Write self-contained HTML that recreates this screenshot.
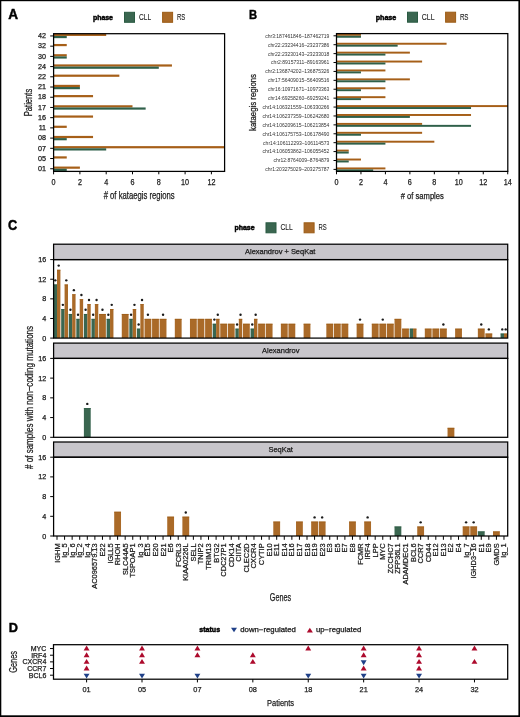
<!DOCTYPE html>
<html><head><meta charset="utf-8"><style>
html,body{margin:0;padding:0;background:#fff;width:520px;height:717px;overflow:hidden;}
svg{display:block;font-family:"Liberation Sans",sans-serif;}
text{stroke:#1a1a1a;stroke-width:0.25px;}
text[font-weight=bold]{stroke:#000;stroke-width:0.45px;}
svg{will-change:transform;}
</style></head><body>
<svg width="520" height="717" viewBox="0 0 520 717" font-family="Liberation Sans, sans-serif"><rect x="0.00" y="0.00" width="520.00" height="717.00" fill="#fff"/>
<text x="8.30" y="19.10" font-size="14.099" font-weight="bold" fill="#000" textLength="9.80" lengthAdjust="spacingAndGlyphs">A</text>
<text x="249.00" y="19.00" font-size="13.372" font-weight="bold" fill="#000" textLength="8.10" lengthAdjust="spacingAndGlyphs">B</text>
<text x="8.10" y="230.00" font-size="14.244" font-weight="bold" fill="#000" textLength="9.20" lengthAdjust="spacingAndGlyphs">C</text>
<text x="8.80" y="632.30" font-size="13.372" font-weight="bold" fill="#000" textLength="9.20" lengthAdjust="spacingAndGlyphs">D</text>
<text x="92.90" y="19.50" font-size="6.759" font-weight="bold" fill="#000" textLength="20.10" lengthAdjust="spacingAndGlyphs">phase</text>
<rect x="124.50" y="12.30" width="10.00" height="10.00" fill="#3a6650" stroke="#2a5a42" stroke-width="1"/>
<rect x="162.60" y="12.30" width="10.00" height="10.00" fill="#aa6a28" stroke="#9c5c16" stroke-width="1"/>
<text x="139.10" y="19.70" font-size="8.739" fill="#222" textLength="12.10" lengthAdjust="spacingAndGlyphs" style="stroke-width:0.1px">CLL</text>
<text x="176.90" y="19.70" font-size="8.739" fill="#222" textLength="8.40" lengthAdjust="spacingAndGlyphs" style="stroke-width:0.1px">RS</text>
<text x="375.70" y="19.50" font-size="6.897" font-weight="bold" fill="#000" textLength="20.60" lengthAdjust="spacingAndGlyphs">phase</text>
<rect x="407.50" y="12.20" width="10.00" height="10.00" fill="#3a6650" stroke="#2a5a42" stroke-width="1"/>
<rect x="445.60" y="12.20" width="10.00" height="10.00" fill="#aa6a28" stroke="#9c5c16" stroke-width="1"/>
<text x="421.80" y="19.60" font-size="8.739" fill="#222" textLength="12.80" lengthAdjust="spacingAndGlyphs" style="stroke-width:0.1px">CLL</text>
<text x="459.90" y="19.60" font-size="8.739" fill="#222" textLength="8.60" lengthAdjust="spacingAndGlyphs" style="stroke-width:0.1px">RS</text>
<text x="234.40" y="230.10" font-size="6.759" font-weight="bold" fill="#000" textLength="20.20" lengthAdjust="spacingAndGlyphs">phase</text>
<rect x="266.00" y="222.80" width="10.00" height="10.00" fill="#3a6650" stroke="#2a5a42" stroke-width="1"/>
<rect x="304.10" y="222.80" width="10.00" height="10.00" fill="#aa6a28" stroke="#9c5c16" stroke-width="1"/>
<text x="280.40" y="230.20" font-size="8.453" fill="#222" textLength="12.40" lengthAdjust="spacingAndGlyphs" style="stroke-width:0.1px">CLL</text>
<text x="318.60" y="230.20" font-size="8.453" fill="#222" textLength="8.20" lengthAdjust="spacingAndGlyphs" style="stroke-width:0.1px">RS</text>
<rect x="53.60" y="33.75" width="52.60" height="2.20" fill="#a65f18"/>
<rect x="53.60" y="35.95" width="13.15" height="2.20" fill="#2f604a"/>
<line x1="50.20" y1="35.95" x2="53.60" y2="35.95" stroke="#000" stroke-width="1.0"/>
<text x="38.09" y="38.15" font-size="7.200" fill="#1a1a1a" textLength="8.01" lengthAdjust="spacingAndGlyphs">42</text>
<rect x="53.60" y="43.97" width="13.15" height="2.20" fill="#a65f18"/>
<line x1="50.20" y1="46.17" x2="53.60" y2="46.17" stroke="#000" stroke-width="1.0"/>
<text x="38.09" y="48.37" font-size="7.200" fill="#1a1a1a" textLength="8.01" lengthAdjust="spacingAndGlyphs">32</text>
<rect x="53.60" y="54.18" width="13.15" height="2.20" fill="#a65f18"/>
<rect x="53.60" y="56.38" width="13.15" height="2.20" fill="#2f604a"/>
<line x1="50.20" y1="56.38" x2="53.60" y2="56.38" stroke="#000" stroke-width="1.0"/>
<text x="38.09" y="58.58" font-size="7.200" fill="#1a1a1a" textLength="8.01" lengthAdjust="spacingAndGlyphs">30</text>
<rect x="53.60" y="64.39" width="118.35" height="2.20" fill="#a65f18"/>
<rect x="53.60" y="66.59" width="105.20" height="2.20" fill="#2f604a"/>
<line x1="50.20" y1="66.59" x2="53.60" y2="66.59" stroke="#000" stroke-width="1.0"/>
<text x="38.09" y="68.80" font-size="7.200" fill="#1a1a1a" textLength="8.01" lengthAdjust="spacingAndGlyphs">24</text>
<rect x="53.60" y="74.61" width="65.75" height="2.20" fill="#a65f18"/>
<line x1="50.20" y1="76.81" x2="53.60" y2="76.81" stroke="#000" stroke-width="1.0"/>
<text x="38.09" y="79.01" font-size="7.200" fill="#1a1a1a" textLength="8.01" lengthAdjust="spacingAndGlyphs">22</text>
<rect x="53.60" y="84.83" width="26.30" height="2.20" fill="#a65f18"/>
<rect x="53.60" y="87.03" width="26.30" height="2.20" fill="#2f604a"/>
<line x1="50.20" y1="87.03" x2="53.60" y2="87.03" stroke="#000" stroke-width="1.0"/>
<text x="38.09" y="89.23" font-size="7.200" fill="#1a1a1a" textLength="8.01" lengthAdjust="spacingAndGlyphs">21</text>
<rect x="53.60" y="95.04" width="39.45" height="2.20" fill="#a65f18"/>
<line x1="50.20" y1="97.24" x2="53.60" y2="97.24" stroke="#000" stroke-width="1.0"/>
<text x="38.09" y="99.44" font-size="7.200" fill="#1a1a1a" textLength="8.01" lengthAdjust="spacingAndGlyphs">18</text>
<rect x="53.60" y="105.25" width="78.90" height="2.20" fill="#a65f18"/>
<rect x="53.60" y="107.45" width="92.05" height="2.20" fill="#2f604a"/>
<line x1="50.20" y1="107.45" x2="53.60" y2="107.45" stroke="#000" stroke-width="1.0"/>
<text x="38.09" y="109.66" font-size="7.200" fill="#1a1a1a" textLength="8.01" lengthAdjust="spacingAndGlyphs">17</text>
<rect x="53.60" y="115.47" width="39.45" height="2.20" fill="#a65f18"/>
<line x1="50.20" y1="117.67" x2="53.60" y2="117.67" stroke="#000" stroke-width="1.0"/>
<text x="38.09" y="119.87" font-size="7.200" fill="#1a1a1a" textLength="8.01" lengthAdjust="spacingAndGlyphs">16</text>
<rect x="53.60" y="125.69" width="13.15" height="2.20" fill="#a65f18"/>
<line x1="50.20" y1="127.89" x2="53.60" y2="127.89" stroke="#000" stroke-width="1.0"/>
<text x="38.63" y="130.09" font-size="7.200" fill="#1a1a1a" textLength="7.47" lengthAdjust="spacingAndGlyphs">11</text>
<rect x="53.60" y="135.90" width="39.45" height="2.20" fill="#a65f18"/>
<rect x="53.60" y="138.10" width="13.15" height="2.20" fill="#2f604a"/>
<line x1="50.20" y1="138.10" x2="53.60" y2="138.10" stroke="#000" stroke-width="1.0"/>
<text x="38.09" y="140.30" font-size="7.200" fill="#1a1a1a" textLength="8.01" lengthAdjust="spacingAndGlyphs">08</text>
<rect x="53.60" y="146.12" width="170.95" height="2.20" fill="#a65f18"/>
<rect x="53.60" y="148.31" width="52.60" height="2.20" fill="#2f604a"/>
<line x1="50.20" y1="148.31" x2="53.60" y2="148.31" stroke="#000" stroke-width="1.0"/>
<text x="38.09" y="150.51" font-size="7.200" fill="#1a1a1a" textLength="8.01" lengthAdjust="spacingAndGlyphs">07</text>
<rect x="53.60" y="156.33" width="13.15" height="2.20" fill="#a65f18"/>
<line x1="50.20" y1="158.53" x2="53.60" y2="158.53" stroke="#000" stroke-width="1.0"/>
<text x="38.09" y="160.73" font-size="7.200" fill="#1a1a1a" textLength="8.01" lengthAdjust="spacingAndGlyphs">05</text>
<rect x="53.60" y="166.55" width="26.30" height="2.20" fill="#a65f18"/>
<rect x="53.60" y="168.75" width="13.15" height="2.20" fill="#2f604a"/>
<line x1="50.20" y1="168.75" x2="53.60" y2="168.75" stroke="#000" stroke-width="1.0"/>
<text x="38.09" y="170.94" font-size="7.200" fill="#1a1a1a" textLength="8.01" lengthAdjust="spacingAndGlyphs">01</text>
<line x1="53.60" y1="171.40" x2="53.60" y2="174.30" stroke="#000" stroke-width="1.0"/>
<text x="51.59" y="184.80" font-size="8.400" fill="#1a1a1a" textLength="4.02" lengthAdjust="spacingAndGlyphs">0</text>
<line x1="79.90" y1="171.40" x2="79.90" y2="174.30" stroke="#000" stroke-width="1.0"/>
<text x="77.89" y="184.80" font-size="8.400" fill="#1a1a1a" textLength="4.02" lengthAdjust="spacingAndGlyphs">2</text>
<line x1="106.20" y1="171.40" x2="106.20" y2="174.30" stroke="#000" stroke-width="1.0"/>
<text x="104.19" y="184.80" font-size="8.400" fill="#1a1a1a" textLength="4.02" lengthAdjust="spacingAndGlyphs">4</text>
<line x1="132.50" y1="171.40" x2="132.50" y2="174.30" stroke="#000" stroke-width="1.0"/>
<text x="130.49" y="184.80" font-size="8.400" fill="#1a1a1a" textLength="4.02" lengthAdjust="spacingAndGlyphs">6</text>
<line x1="158.80" y1="171.40" x2="158.80" y2="174.30" stroke="#000" stroke-width="1.0"/>
<text x="156.79" y="184.80" font-size="8.400" fill="#1a1a1a" textLength="4.02" lengthAdjust="spacingAndGlyphs">8</text>
<line x1="185.10" y1="171.40" x2="185.10" y2="174.30" stroke="#000" stroke-width="1.0"/>
<text x="181.08" y="184.80" font-size="8.400" fill="#1a1a1a" textLength="8.04" lengthAdjust="spacingAndGlyphs">10</text>
<line x1="211.40" y1="171.40" x2="211.40" y2="174.30" stroke="#000" stroke-width="1.0"/>
<text x="207.38" y="184.80" font-size="8.400" fill="#1a1a1a" textLength="8.04" lengthAdjust="spacingAndGlyphs">12</text>
<rect x="53.60" y="33.70" width="171.00" height="137.70" fill="none" stroke="#000" stroke-width="1.25"/>
<text x="103.70" y="198.50" font-size="10.083" fill="#1a1a1a" textLength="70.90" lengthAdjust="spacingAndGlyphs"># of kataegis regions</text>
<text transform="translate(32.00,116.20) rotate(-90)" x="0" y="0" font-size="10.465" fill="#1a1a1a" textLength="27.40" lengthAdjust="spacingAndGlyphs">Patients</text>
<rect x="336.50" y="33.85" width="24.46" height="1.95" fill="#a65f18"/>
<rect x="336.50" y="35.80" width="24.46" height="1.95" fill="#2f604a"/>
<line x1="333.50" y1="35.80" x2="336.50" y2="35.80" stroke="#000" stroke-width="1.0"/>
<text x="265.17" y="37.70" font-size="5.400" fill="#333" textLength="64.23" lengthAdjust="spacingAndGlyphs" style="stroke-width:0px">chr3:187461846–187462719</text>
<rect x="336.50" y="42.76" width="110.07" height="1.95" fill="#a65f18"/>
<rect x="336.50" y="44.71" width="61.15" height="1.95" fill="#2f604a"/>
<line x1="333.50" y1="44.71" x2="336.50" y2="44.71" stroke="#000" stroke-width="1.0"/>
<text x="267.96" y="46.61" font-size="5.400" fill="#333" textLength="61.44" lengthAdjust="spacingAndGlyphs" style="stroke-width:0px">chr22:23234416–23237386</text>
<rect x="336.50" y="51.66" width="73.38" height="1.95" fill="#a65f18"/>
<rect x="336.50" y="53.61" width="48.92" height="1.95" fill="#2f604a"/>
<line x1="333.50" y1="53.61" x2="336.50" y2="53.61" stroke="#000" stroke-width="1.0"/>
<text x="267.96" y="55.51" font-size="5.400" fill="#333" textLength="61.44" lengthAdjust="spacingAndGlyphs" style="stroke-width:0px">chr22:23230143–23233018</text>
<rect x="336.50" y="60.57" width="85.61" height="1.95" fill="#a65f18"/>
<rect x="336.50" y="62.52" width="48.92" height="1.95" fill="#2f604a"/>
<line x1="333.50" y1="62.52" x2="336.50" y2="62.52" stroke="#000" stroke-width="1.0"/>
<text x="271.12" y="64.42" font-size="5.400" fill="#333" textLength="58.27" lengthAdjust="spacingAndGlyphs" style="stroke-width:0px">chr2:89157311–89163961</text>
<rect x="336.50" y="69.48" width="48.92" height="1.95" fill="#a65f18"/>
<rect x="336.50" y="71.43" width="24.46" height="1.95" fill="#2f604a"/>
<line x1="333.50" y1="71.43" x2="336.50" y2="71.43" stroke="#000" stroke-width="1.0"/>
<text x="265.17" y="73.33" font-size="5.400" fill="#333" textLength="64.23" lengthAdjust="spacingAndGlyphs" style="stroke-width:0px">chr2:136874202–136875326</text>
<rect x="336.50" y="78.38" width="73.38" height="1.95" fill="#a65f18"/>
<rect x="336.50" y="80.33" width="48.92" height="1.95" fill="#2f604a"/>
<line x1="333.50" y1="80.33" x2="336.50" y2="80.33" stroke="#000" stroke-width="1.0"/>
<text x="267.96" y="82.23" font-size="5.400" fill="#333" textLength="61.44" lengthAdjust="spacingAndGlyphs" style="stroke-width:0px">chr17:56409015–56409516</text>
<rect x="336.50" y="87.29" width="48.92" height="1.95" fill="#a65f18"/>
<rect x="336.50" y="89.24" width="24.46" height="1.95" fill="#2f604a"/>
<line x1="333.50" y1="89.24" x2="336.50" y2="89.24" stroke="#000" stroke-width="1.0"/>
<text x="267.96" y="91.14" font-size="5.400" fill="#333" textLength="61.44" lengthAdjust="spacingAndGlyphs" style="stroke-width:0px">chr16:10971671–10973363</text>
<rect x="336.50" y="96.20" width="48.92" height="1.95" fill="#a65f18"/>
<rect x="336.50" y="98.15" width="24.46" height="1.95" fill="#2f604a"/>
<line x1="333.50" y1="98.15" x2="336.50" y2="98.15" stroke="#000" stroke-width="1.0"/>
<text x="267.96" y="100.05" font-size="5.400" fill="#333" textLength="61.44" lengthAdjust="spacingAndGlyphs" style="stroke-width:0px">chr14:69258260–69259241</text>
<rect x="336.50" y="105.11" width="171.22" height="1.95" fill="#a65f18"/>
<rect x="336.50" y="107.06" width="134.53" height="1.95" fill="#2f604a"/>
<line x1="333.50" y1="107.06" x2="336.50" y2="107.06" stroke="#000" stroke-width="1.0"/>
<text x="262.38" y="108.96" font-size="5.400" fill="#333" textLength="67.03" lengthAdjust="spacingAndGlyphs" style="stroke-width:0px">chr14:106321559–106330266</text>
<rect x="336.50" y="114.01" width="134.53" height="1.95" fill="#a65f18"/>
<rect x="336.50" y="115.96" width="73.38" height="1.95" fill="#2f604a"/>
<line x1="333.50" y1="115.96" x2="336.50" y2="115.96" stroke="#000" stroke-width="1.0"/>
<text x="262.38" y="117.86" font-size="5.400" fill="#333" textLength="67.03" lengthAdjust="spacingAndGlyphs" style="stroke-width:0px">chr14:106237359–106242680</text>
<rect x="336.50" y="122.92" width="85.61" height="1.95" fill="#a65f18"/>
<rect x="336.50" y="124.87" width="134.53" height="1.95" fill="#2f604a"/>
<line x1="333.50" y1="124.87" x2="336.50" y2="124.87" stroke="#000" stroke-width="1.0"/>
<text x="262.38" y="126.77" font-size="5.400" fill="#333" textLength="67.03" lengthAdjust="spacingAndGlyphs" style="stroke-width:0px">chr14:106209615–106213854</text>
<rect x="336.50" y="131.83" width="85.61" height="1.95" fill="#a65f18"/>
<rect x="336.50" y="133.78" width="24.46" height="1.95" fill="#2f604a"/>
<line x1="333.50" y1="133.78" x2="336.50" y2="133.78" stroke="#000" stroke-width="1.0"/>
<text x="262.38" y="135.68" font-size="5.400" fill="#333" textLength="67.03" lengthAdjust="spacingAndGlyphs" style="stroke-width:0px">chr14:106175753–106178490</text>
<rect x="336.50" y="140.73" width="97.84" height="1.95" fill="#a65f18"/>
<rect x="336.50" y="142.68" width="48.92" height="1.95" fill="#2f604a"/>
<line x1="333.50" y1="142.68" x2="336.50" y2="142.68" stroke="#000" stroke-width="1.0"/>
<text x="263.12" y="144.58" font-size="5.400" fill="#333" textLength="66.28" lengthAdjust="spacingAndGlyphs" style="stroke-width:0px">chr14:106112293–106114573</text>
<rect x="336.50" y="149.64" width="12.23" height="1.95" fill="#a65f18"/>
<rect x="336.50" y="151.59" width="12.23" height="1.95" fill="#2f604a"/>
<line x1="333.50" y1="151.59" x2="336.50" y2="151.59" stroke="#000" stroke-width="1.0"/>
<text x="262.38" y="153.49" font-size="5.400" fill="#333" textLength="67.03" lengthAdjust="spacingAndGlyphs" style="stroke-width:0px">chr14:106053862–106055452</text>
<rect x="336.50" y="158.55" width="24.46" height="1.95" fill="#a65f18"/>
<rect x="336.50" y="160.50" width="12.23" height="1.95" fill="#2f604a"/>
<line x1="333.50" y1="160.50" x2="336.50" y2="160.50" stroke="#000" stroke-width="1.0"/>
<text x="273.55" y="162.40" font-size="5.400" fill="#333" textLength="55.85" lengthAdjust="spacingAndGlyphs" style="stroke-width:0px">chr12:8764009–8764879</text>
<rect x="336.50" y="167.45" width="48.92" height="1.95" fill="#a65f18"/>
<rect x="336.50" y="169.40" width="36.69" height="1.95" fill="#2f604a"/>
<line x1="333.50" y1="169.40" x2="336.50" y2="169.40" stroke="#000" stroke-width="1.0"/>
<text x="265.17" y="171.30" font-size="5.400" fill="#333" textLength="64.23" lengthAdjust="spacingAndGlyphs" style="stroke-width:0px">chr1:203275029–203275787</text>
<line x1="336.50" y1="171.40" x2="336.50" y2="174.30" stroke="#000" stroke-width="1.0"/>
<text x="334.49" y="184.80" font-size="8.400" fill="#1a1a1a" textLength="4.02" lengthAdjust="spacingAndGlyphs">0</text>
<line x1="360.96" y1="171.40" x2="360.96" y2="174.30" stroke="#000" stroke-width="1.0"/>
<text x="358.95" y="184.80" font-size="8.400" fill="#1a1a1a" textLength="4.02" lengthAdjust="spacingAndGlyphs">2</text>
<line x1="385.42" y1="171.40" x2="385.42" y2="174.30" stroke="#000" stroke-width="1.0"/>
<text x="383.41" y="184.80" font-size="8.400" fill="#1a1a1a" textLength="4.02" lengthAdjust="spacingAndGlyphs">4</text>
<line x1="409.88" y1="171.40" x2="409.88" y2="174.30" stroke="#000" stroke-width="1.0"/>
<text x="407.87" y="184.80" font-size="8.400" fill="#1a1a1a" textLength="4.02" lengthAdjust="spacingAndGlyphs">6</text>
<line x1="434.34" y1="171.40" x2="434.34" y2="174.30" stroke="#000" stroke-width="1.0"/>
<text x="432.33" y="184.80" font-size="8.400" fill="#1a1a1a" textLength="4.02" lengthAdjust="spacingAndGlyphs">8</text>
<line x1="458.80" y1="171.40" x2="458.80" y2="174.30" stroke="#000" stroke-width="1.0"/>
<text x="454.78" y="184.80" font-size="8.400" fill="#1a1a1a" textLength="8.04" lengthAdjust="spacingAndGlyphs">10</text>
<line x1="483.26" y1="171.40" x2="483.26" y2="174.30" stroke="#000" stroke-width="1.0"/>
<text x="479.24" y="184.80" font-size="8.400" fill="#1a1a1a" textLength="8.04" lengthAdjust="spacingAndGlyphs">12</text>
<line x1="507.72" y1="171.40" x2="507.72" y2="174.30" stroke="#000" stroke-width="1.0"/>
<text x="503.70" y="184.80" font-size="8.400" fill="#1a1a1a" textLength="8.04" lengthAdjust="spacingAndGlyphs">14</text>
<rect x="336.50" y="33.60" width="171.30" height="137.80" fill="none" stroke="#000" stroke-width="1.25"/>
<text x="400.80" y="198.50" font-size="9.116" fill="#1a1a1a" textLength="43.00" lengthAdjust="spacingAndGlyphs"># of samples</text>
<text transform="translate(255.80,130.90) rotate(-90)" x="0" y="0" font-size="8.552" fill="#1a1a1a" textLength="56.90" lengthAdjust="spacingAndGlyphs">kataegis regions</text>
<rect x="53.60" y="244.20" width="454.10" height="15.40" fill="#c8c6cb" stroke="#000" stroke-width="1.25"/>
<text x="245.00" y="254.30" font-size="7.413" fill="#1a1a1a" textLength="70.40" lengthAdjust="spacingAndGlyphs">Alexandrov + SeqKat</text>
<rect x="53.59" y="284.53" width="3.41" height="53.57" fill="#3a6650"/>
<rect x="53.59" y="284.53" width="3.41" height="0.7" fill="#2a5a42"/>
<circle cx="55.30" cy="280.33" r="1.2" fill="#1a1a1a"/>
<rect x="57.00" y="269.81" width="3.41" height="68.29" fill="#aa6a28"/>
<rect x="57.00" y="269.81" width="3.41" height="0.7" fill="#9c5c16"/>
<circle cx="58.70" cy="265.61" r="1.2" fill="#1a1a1a"/>
<rect x="61.17" y="309.06" width="3.41" height="29.04" fill="#3a6650"/>
<rect x="61.17" y="309.06" width="3.41" height="0.7" fill="#2a5a42"/>
<circle cx="62.87" cy="304.86" r="1.2" fill="#1a1a1a"/>
<rect x="64.58" y="284.53" width="3.41" height="53.57" fill="#aa6a28"/>
<rect x="64.58" y="284.53" width="3.41" height="0.7" fill="#9c5c16"/>
<circle cx="66.28" cy="280.33" r="1.2" fill="#1a1a1a"/>
<rect x="68.74" y="313.97" width="3.41" height="24.13" fill="#3a6650"/>
<rect x="68.74" y="313.97" width="3.41" height="0.7" fill="#2a5a42"/>
<circle cx="70.45" cy="309.77" r="1.2" fill="#1a1a1a"/>
<rect x="72.15" y="294.34" width="3.41" height="43.76" fill="#aa6a28"/>
<rect x="72.15" y="294.34" width="3.41" height="0.7" fill="#9c5c16"/>
<circle cx="73.86" cy="290.14" r="1.2" fill="#1a1a1a"/>
<rect x="76.32" y="318.88" width="3.41" height="19.23" fill="#3a6650"/>
<rect x="76.32" y="318.88" width="3.41" height="0.7" fill="#2a5a42"/>
<circle cx="78.02" cy="314.68" r="1.2" fill="#1a1a1a"/>
<rect x="79.73" y="299.25" width="3.41" height="38.85" fill="#aa6a28"/>
<rect x="79.73" y="299.25" width="3.41" height="0.7" fill="#9c5c16"/>
<circle cx="81.43" cy="295.05" r="1.2" fill="#1a1a1a"/>
<rect x="83.89" y="313.97" width="3.41" height="24.13" fill="#3a6650"/>
<rect x="83.89" y="313.97" width="3.41" height="0.7" fill="#2a5a42"/>
<circle cx="85.60" cy="309.77" r="1.2" fill="#1a1a1a"/>
<rect x="87.30" y="304.16" width="3.41" height="33.94" fill="#aa6a28"/>
<rect x="87.30" y="304.16" width="3.41" height="0.7" fill="#9c5c16"/>
<circle cx="89.01" cy="299.96" r="1.2" fill="#1a1a1a"/>
<rect x="91.47" y="318.88" width="3.41" height="19.23" fill="#3a6650"/>
<rect x="91.47" y="318.88" width="3.41" height="0.7" fill="#2a5a42"/>
<circle cx="93.18" cy="314.68" r="1.2" fill="#1a1a1a"/>
<rect x="94.88" y="304.16" width="3.41" height="33.94" fill="#aa6a28"/>
<rect x="94.88" y="304.16" width="3.41" height="0.7" fill="#9c5c16"/>
<circle cx="96.58" cy="299.96" r="1.2" fill="#1a1a1a"/>
<rect x="99.05" y="313.97" width="6.82" height="24.13" fill="#aa6a28"/>
<rect x="99.05" y="313.97" width="6.82" height="0.7" fill="#9c5c16"/>
<circle cx="102.46" cy="309.77" r="1.2" fill="#1a1a1a"/>
<rect x="106.62" y="318.88" width="3.41" height="19.23" fill="#3a6650"/>
<rect x="106.62" y="318.88" width="3.41" height="0.7" fill="#2a5a42"/>
<circle cx="108.33" cy="314.68" r="1.2" fill="#1a1a1a"/>
<rect x="110.03" y="309.06" width="3.41" height="29.04" fill="#aa6a28"/>
<rect x="110.03" y="309.06" width="3.41" height="0.7" fill="#9c5c16"/>
<circle cx="111.74" cy="304.86" r="1.2" fill="#1a1a1a"/>
<rect x="121.77" y="313.97" width="6.82" height="24.13" fill="#aa6a28"/>
<rect x="121.77" y="313.97" width="6.82" height="0.7" fill="#9c5c16"/>
<rect x="129.35" y="318.88" width="3.41" height="19.23" fill="#3a6650"/>
<rect x="129.35" y="318.88" width="3.41" height="0.7" fill="#2a5a42"/>
<circle cx="131.06" cy="314.68" r="1.2" fill="#1a1a1a"/>
<rect x="132.76" y="309.06" width="3.41" height="29.04" fill="#aa6a28"/>
<rect x="132.76" y="309.06" width="3.41" height="0.7" fill="#9c5c16"/>
<circle cx="134.46" cy="304.86" r="1.2" fill="#1a1a1a"/>
<rect x="136.93" y="328.69" width="3.41" height="9.41" fill="#3a6650"/>
<rect x="136.93" y="328.69" width="3.41" height="0.7" fill="#2a5a42"/>
<circle cx="138.63" cy="324.49" r="1.2" fill="#1a1a1a"/>
<rect x="140.34" y="304.16" width="3.41" height="33.94" fill="#aa6a28"/>
<rect x="140.34" y="304.16" width="3.41" height="0.7" fill="#9c5c16"/>
<circle cx="142.04" cy="299.96" r="1.2" fill="#1a1a1a"/>
<rect x="144.50" y="318.88" width="6.82" height="19.23" fill="#aa6a28"/>
<rect x="144.50" y="318.88" width="6.82" height="0.7" fill="#9c5c16"/>
<circle cx="147.91" cy="314.68" r="1.2" fill="#1a1a1a"/>
<rect x="152.08" y="318.88" width="6.82" height="19.23" fill="#aa6a28"/>
<rect x="152.08" y="318.88" width="6.82" height="0.7" fill="#9c5c16"/>
<rect x="159.65" y="318.88" width="6.82" height="19.23" fill="#aa6a28"/>
<rect x="159.65" y="318.88" width="6.82" height="0.7" fill="#9c5c16"/>
<circle cx="163.06" cy="314.68" r="1.2" fill="#1a1a1a"/>
<rect x="174.81" y="318.88" width="6.82" height="19.23" fill="#aa6a28"/>
<rect x="174.81" y="318.88" width="6.82" height="0.7" fill="#9c5c16"/>
<rect x="189.96" y="318.88" width="6.82" height="19.23" fill="#aa6a28"/>
<rect x="189.96" y="318.88" width="6.82" height="0.7" fill="#9c5c16"/>
<rect x="197.53" y="318.88" width="6.82" height="19.23" fill="#aa6a28"/>
<rect x="197.53" y="318.88" width="6.82" height="0.7" fill="#9c5c16"/>
<rect x="205.11" y="318.88" width="6.82" height="19.23" fill="#aa6a28"/>
<rect x="205.11" y="318.88" width="6.82" height="0.7" fill="#9c5c16"/>
<rect x="212.69" y="323.78" width="3.41" height="14.32" fill="#3a6650"/>
<rect x="212.69" y="323.78" width="3.41" height="0.7" fill="#2a5a42"/>
<circle cx="214.39" cy="319.58" r="1.2" fill="#1a1a1a"/>
<rect x="216.10" y="318.88" width="3.41" height="19.23" fill="#aa6a28"/>
<rect x="216.10" y="318.88" width="3.41" height="0.7" fill="#9c5c16"/>
<circle cx="217.80" cy="314.68" r="1.2" fill="#1a1a1a"/>
<rect x="220.26" y="323.78" width="6.82" height="14.32" fill="#aa6a28"/>
<rect x="220.26" y="323.78" width="6.82" height="0.7" fill="#9c5c16"/>
<rect x="227.84" y="323.78" width="6.82" height="14.32" fill="#aa6a28"/>
<rect x="227.84" y="323.78" width="6.82" height="0.7" fill="#9c5c16"/>
<rect x="235.41" y="328.69" width="3.41" height="9.41" fill="#3a6650"/>
<rect x="235.41" y="328.69" width="3.41" height="0.7" fill="#2a5a42"/>
<circle cx="237.12" cy="324.49" r="1.2" fill="#1a1a1a"/>
<rect x="238.82" y="318.88" width="3.41" height="19.23" fill="#aa6a28"/>
<rect x="238.82" y="318.88" width="3.41" height="0.7" fill="#9c5c16"/>
<circle cx="240.53" cy="314.68" r="1.2" fill="#1a1a1a"/>
<rect x="242.99" y="323.78" width="6.82" height="14.32" fill="#aa6a28"/>
<rect x="242.99" y="323.78" width="6.82" height="0.7" fill="#9c5c16"/>
<rect x="250.57" y="328.69" width="3.41" height="9.41" fill="#3a6650"/>
<rect x="250.57" y="328.69" width="3.41" height="0.7" fill="#2a5a42"/>
<circle cx="252.27" cy="324.49" r="1.2" fill="#1a1a1a"/>
<rect x="253.98" y="318.88" width="3.41" height="19.23" fill="#aa6a28"/>
<rect x="253.98" y="318.88" width="3.41" height="0.7" fill="#9c5c16"/>
<circle cx="255.68" cy="314.68" r="1.2" fill="#1a1a1a"/>
<rect x="258.14" y="323.78" width="6.82" height="14.32" fill="#aa6a28"/>
<rect x="258.14" y="323.78" width="6.82" height="0.7" fill="#9c5c16"/>
<rect x="265.72" y="323.78" width="6.82" height="14.32" fill="#aa6a28"/>
<rect x="265.72" y="323.78" width="6.82" height="0.7" fill="#9c5c16"/>
<rect x="280.87" y="323.78" width="6.82" height="14.32" fill="#aa6a28"/>
<rect x="280.87" y="323.78" width="6.82" height="0.7" fill="#9c5c16"/>
<rect x="288.45" y="323.78" width="6.82" height="14.32" fill="#aa6a28"/>
<rect x="288.45" y="323.78" width="6.82" height="0.7" fill="#9c5c16"/>
<rect x="303.60" y="323.78" width="6.82" height="14.32" fill="#aa6a28"/>
<rect x="303.60" y="323.78" width="6.82" height="0.7" fill="#9c5c16"/>
<rect x="326.33" y="323.78" width="6.82" height="14.32" fill="#aa6a28"/>
<rect x="326.33" y="323.78" width="6.82" height="0.7" fill="#9c5c16"/>
<rect x="333.90" y="323.78" width="6.82" height="14.32" fill="#aa6a28"/>
<rect x="333.90" y="323.78" width="6.82" height="0.7" fill="#9c5c16"/>
<rect x="341.48" y="323.78" width="6.82" height="14.32" fill="#aa6a28"/>
<rect x="341.48" y="323.78" width="6.82" height="0.7" fill="#9c5c16"/>
<rect x="356.63" y="323.78" width="6.82" height="14.32" fill="#aa6a28"/>
<rect x="356.63" y="323.78" width="6.82" height="0.7" fill="#9c5c16"/>
<circle cx="360.04" cy="319.58" r="1.2" fill="#1a1a1a"/>
<rect x="371.78" y="323.78" width="6.82" height="14.32" fill="#aa6a28"/>
<rect x="371.78" y="323.78" width="6.82" height="0.7" fill="#9c5c16"/>
<rect x="379.36" y="323.78" width="6.82" height="14.32" fill="#aa6a28"/>
<rect x="379.36" y="323.78" width="6.82" height="0.7" fill="#9c5c16"/>
<circle cx="382.77" cy="319.58" r="1.2" fill="#1a1a1a"/>
<rect x="386.93" y="323.78" width="6.82" height="14.32" fill="#aa6a28"/>
<rect x="386.93" y="323.78" width="6.82" height="0.7" fill="#9c5c16"/>
<rect x="394.51" y="318.88" width="6.82" height="19.23" fill="#aa6a28"/>
<rect x="394.51" y="318.88" width="6.82" height="0.7" fill="#9c5c16"/>
<rect x="402.09" y="328.69" width="6.82" height="9.41" fill="#aa6a28"/>
<rect x="402.09" y="328.69" width="6.82" height="0.7" fill="#9c5c16"/>
<rect x="409.66" y="328.69" width="3.41" height="9.41" fill="#3a6650"/>
<rect x="409.66" y="328.69" width="3.41" height="0.7" fill="#2a5a42"/>
<rect x="413.07" y="328.69" width="3.41" height="9.41" fill="#aa6a28"/>
<rect x="413.07" y="328.69" width="3.41" height="0.7" fill="#9c5c16"/>
<rect x="424.81" y="328.69" width="6.82" height="9.41" fill="#aa6a28"/>
<rect x="424.81" y="328.69" width="6.82" height="0.7" fill="#9c5c16"/>
<rect x="432.39" y="328.69" width="6.82" height="9.41" fill="#aa6a28"/>
<rect x="432.39" y="328.69" width="6.82" height="0.7" fill="#9c5c16"/>
<rect x="439.97" y="328.69" width="6.82" height="9.41" fill="#aa6a28"/>
<rect x="439.97" y="328.69" width="6.82" height="0.7" fill="#9c5c16"/>
<circle cx="443.38" cy="324.49" r="1.2" fill="#1a1a1a"/>
<rect x="455.12" y="328.69" width="6.82" height="9.41" fill="#aa6a28"/>
<rect x="455.12" y="328.69" width="6.82" height="0.7" fill="#9c5c16"/>
<rect x="477.85" y="328.69" width="6.82" height="9.41" fill="#aa6a28"/>
<rect x="477.85" y="328.69" width="6.82" height="0.7" fill="#9c5c16"/>
<circle cx="481.26" cy="324.49" r="1.2" fill="#1a1a1a"/>
<rect x="485.42" y="333.59" width="6.82" height="4.51" fill="#aa6a28"/>
<rect x="485.42" y="333.59" width="6.82" height="0.7" fill="#9c5c16"/>
<circle cx="488.83" cy="329.39" r="1.2" fill="#1a1a1a"/>
<rect x="500.57" y="333.59" width="3.41" height="4.51" fill="#3a6650"/>
<rect x="500.57" y="333.59" width="3.41" height="0.7" fill="#2a5a42"/>
<circle cx="502.28" cy="329.39" r="1.2" fill="#1a1a1a"/>
<rect x="503.98" y="333.59" width="3.41" height="4.51" fill="#aa6a28"/>
<rect x="503.98" y="333.59" width="3.41" height="0.7" fill="#9c5c16"/>
<circle cx="505.69" cy="329.39" r="1.2" fill="#1a1a1a"/>
<rect x="53.60" y="259.60" width="454.10" height="78.50" fill="none" stroke="#000" stroke-width="1.25"/>
<line x1="50.20" y1="338.10" x2="53.60" y2="338.10" stroke="#000" stroke-width="1.0"/>
<text x="42.30" y="340.65" font-size="7.200" fill="#1a1a1a" textLength="4.00" lengthAdjust="spacingAndGlyphs">0</text>
<line x1="50.20" y1="318.48" x2="53.60" y2="318.48" stroke="#000" stroke-width="1.0"/>
<text x="42.30" y="321.03" font-size="7.200" fill="#1a1a1a" textLength="4.00" lengthAdjust="spacingAndGlyphs">4</text>
<line x1="50.20" y1="298.85" x2="53.60" y2="298.85" stroke="#000" stroke-width="1.0"/>
<text x="42.30" y="301.40" font-size="7.200" fill="#1a1a1a" textLength="4.00" lengthAdjust="spacingAndGlyphs">8</text>
<line x1="50.20" y1="279.23" x2="53.60" y2="279.23" stroke="#000" stroke-width="1.0"/>
<text x="38.29" y="281.78" font-size="7.200" fill="#1a1a1a" textLength="8.01" lengthAdjust="spacingAndGlyphs">12</text>
<line x1="50.20" y1="259.60" x2="53.60" y2="259.60" stroke="#000" stroke-width="1.0"/>
<text x="38.29" y="262.15" font-size="7.200" fill="#1a1a1a" textLength="8.01" lengthAdjust="spacingAndGlyphs">16</text>
<rect x="53.60" y="343.10" width="454.10" height="15.30" fill="#c8c6cb" stroke="#000" stroke-width="1.25"/>
<text x="262.00" y="353.10" font-size="7.849" fill="#1a1a1a" textLength="37.50" lengthAdjust="spacingAndGlyphs">Alexandrov</text>
<rect x="83.89" y="408.11" width="6.82" height="29.19" fill="#3a6650"/>
<rect x="83.89" y="408.11" width="6.82" height="0.7" fill="#2a5a42"/>
<circle cx="87.30" cy="403.91" r="1.2" fill="#1a1a1a"/>
<rect x="447.54" y="427.84" width="6.82" height="9.46" fill="#aa6a28"/>
<rect x="447.54" y="427.84" width="6.82" height="0.7" fill="#9c5c16"/>
<rect x="53.60" y="358.40" width="454.10" height="78.90" fill="none" stroke="#000" stroke-width="1.25"/>
<line x1="50.20" y1="437.30" x2="53.60" y2="437.30" stroke="#000" stroke-width="1.0"/>
<text x="42.30" y="439.85" font-size="7.200" fill="#1a1a1a" textLength="4.00" lengthAdjust="spacingAndGlyphs">0</text>
<line x1="50.20" y1="417.57" x2="53.60" y2="417.57" stroke="#000" stroke-width="1.0"/>
<text x="42.30" y="420.12" font-size="7.200" fill="#1a1a1a" textLength="4.00" lengthAdjust="spacingAndGlyphs">4</text>
<line x1="50.20" y1="397.85" x2="53.60" y2="397.85" stroke="#000" stroke-width="1.0"/>
<text x="42.30" y="400.40" font-size="7.200" fill="#1a1a1a" textLength="4.00" lengthAdjust="spacingAndGlyphs">8</text>
<line x1="50.20" y1="378.12" x2="53.60" y2="378.12" stroke="#000" stroke-width="1.0"/>
<text x="38.29" y="380.68" font-size="7.200" fill="#1a1a1a" textLength="8.01" lengthAdjust="spacingAndGlyphs">12</text>
<line x1="50.20" y1="358.40" x2="53.60" y2="358.40" stroke="#000" stroke-width="1.0"/>
<text x="38.29" y="360.95" font-size="7.200" fill="#1a1a1a" textLength="8.01" lengthAdjust="spacingAndGlyphs">16</text>
<rect x="53.60" y="442.00" width="454.10" height="15.20" fill="#c8c6cb" stroke="#000" stroke-width="1.25"/>
<text x="268.50" y="451.90" font-size="7.880" fill="#1a1a1a" textLength="24.40" lengthAdjust="spacingAndGlyphs">SeqKat</text>
<rect x="114.20" y="511.77" width="6.82" height="24.23" fill="#aa6a28"/>
<rect x="114.20" y="511.77" width="6.82" height="0.7" fill="#9c5c16"/>
<rect x="167.23" y="516.70" width="6.82" height="19.30" fill="#aa6a28"/>
<rect x="167.23" y="516.70" width="6.82" height="0.7" fill="#9c5c16"/>
<rect x="182.38" y="516.70" width="6.82" height="19.30" fill="#aa6a28"/>
<rect x="182.38" y="516.70" width="6.82" height="0.7" fill="#9c5c16"/>
<circle cx="185.79" cy="512.50" r="1.2" fill="#1a1a1a"/>
<rect x="273.29" y="521.62" width="6.82" height="14.38" fill="#aa6a28"/>
<rect x="273.29" y="521.62" width="6.82" height="0.7" fill="#9c5c16"/>
<rect x="296.02" y="521.62" width="6.82" height="14.38" fill="#aa6a28"/>
<rect x="296.02" y="521.62" width="6.82" height="0.7" fill="#9c5c16"/>
<rect x="311.17" y="521.62" width="6.82" height="14.38" fill="#aa6a28"/>
<rect x="311.17" y="521.62" width="6.82" height="0.7" fill="#9c5c16"/>
<circle cx="314.58" cy="517.42" r="1.2" fill="#1a1a1a"/>
<rect x="318.75" y="521.62" width="6.82" height="14.38" fill="#aa6a28"/>
<rect x="318.75" y="521.62" width="6.82" height="0.7" fill="#9c5c16"/>
<circle cx="322.16" cy="517.42" r="1.2" fill="#1a1a1a"/>
<rect x="349.05" y="521.62" width="6.82" height="14.38" fill="#aa6a28"/>
<rect x="349.05" y="521.62" width="6.82" height="0.7" fill="#9c5c16"/>
<rect x="364.21" y="521.62" width="6.82" height="14.38" fill="#aa6a28"/>
<rect x="364.21" y="521.62" width="6.82" height="0.7" fill="#9c5c16"/>
<circle cx="367.62" cy="517.42" r="1.2" fill="#1a1a1a"/>
<rect x="394.51" y="526.55" width="6.82" height="9.45" fill="#3a6650"/>
<rect x="394.51" y="526.55" width="6.82" height="0.7" fill="#2a5a42"/>
<rect x="417.24" y="526.55" width="6.82" height="9.45" fill="#aa6a28"/>
<rect x="417.24" y="526.55" width="6.82" height="0.7" fill="#9c5c16"/>
<circle cx="420.65" cy="522.35" r="1.2" fill="#1a1a1a"/>
<rect x="462.69" y="526.55" width="6.82" height="9.45" fill="#aa6a28"/>
<rect x="462.69" y="526.55" width="6.82" height="0.7" fill="#9c5c16"/>
<circle cx="466.10" cy="522.35" r="1.2" fill="#1a1a1a"/>
<rect x="470.27" y="526.55" width="6.82" height="9.45" fill="#aa6a28"/>
<rect x="470.27" y="526.55" width="6.82" height="0.7" fill="#9c5c16"/>
<circle cx="473.68" cy="522.35" r="1.2" fill="#1a1a1a"/>
<rect x="477.85" y="531.48" width="6.82" height="4.52" fill="#3a6650"/>
<rect x="477.85" y="531.48" width="6.82" height="0.7" fill="#2a5a42"/>
<rect x="493.00" y="531.48" width="6.82" height="4.52" fill="#aa6a28"/>
<rect x="493.00" y="531.48" width="6.82" height="0.7" fill="#9c5c16"/>
<rect x="53.60" y="457.20" width="454.10" height="78.80" fill="none" stroke="#000" stroke-width="1.25"/>
<line x1="50.20" y1="536.00" x2="53.60" y2="536.00" stroke="#000" stroke-width="1.0"/>
<text x="42.30" y="538.55" font-size="7.200" fill="#1a1a1a" textLength="4.00" lengthAdjust="spacingAndGlyphs">0</text>
<line x1="50.20" y1="516.30" x2="53.60" y2="516.30" stroke="#000" stroke-width="1.0"/>
<text x="42.30" y="518.85" font-size="7.200" fill="#1a1a1a" textLength="4.00" lengthAdjust="spacingAndGlyphs">4</text>
<line x1="50.20" y1="496.60" x2="53.60" y2="496.60" stroke="#000" stroke-width="1.0"/>
<text x="42.30" y="499.15" font-size="7.200" fill="#1a1a1a" textLength="4.00" lengthAdjust="spacingAndGlyphs">8</text>
<line x1="50.20" y1="476.90" x2="53.60" y2="476.90" stroke="#000" stroke-width="1.0"/>
<text x="38.29" y="479.45" font-size="7.200" fill="#1a1a1a" textLength="8.01" lengthAdjust="spacingAndGlyphs">12</text>
<line x1="50.20" y1="457.20" x2="53.60" y2="457.20" stroke="#000" stroke-width="1.0"/>
<text x="38.29" y="459.75" font-size="7.200" fill="#1a1a1a" textLength="8.01" lengthAdjust="spacingAndGlyphs">16</text>
<line x1="57.00" y1="536.00" x2="57.00" y2="539.80" stroke="#000" stroke-width="1.0"/>
<text transform="translate(59.50,562.72) rotate(-90)" x="0" y="0" font-size="7.400" fill="#1a1a1a" textLength="19.32" lengthAdjust="spacingAndGlyphs">IGHM</text>
<line x1="64.58" y1="536.00" x2="64.58" y2="539.80" stroke="#000" stroke-width="1.0"/>
<text transform="translate(67.08,557.80) rotate(-90)" x="0" y="0" font-size="7.400" fill="#1a1a1a" textLength="14.40" lengthAdjust="spacingAndGlyphs">Ig_5</text>
<line x1="72.15" y1="536.00" x2="72.15" y2="539.80" stroke="#000" stroke-width="1.0"/>
<text transform="translate(74.65,557.80) rotate(-90)" x="0" y="0" font-size="7.400" fill="#1a1a1a" textLength="14.40" lengthAdjust="spacingAndGlyphs">Ig_6</text>
<line x1="79.73" y1="536.00" x2="79.73" y2="539.80" stroke="#000" stroke-width="1.0"/>
<text transform="translate(82.23,557.80) rotate(-90)" x="0" y="0" font-size="7.400" fill="#1a1a1a" textLength="14.40" lengthAdjust="spacingAndGlyphs">Ig_2</text>
<line x1="87.30" y1="536.00" x2="87.30" y2="539.80" stroke="#000" stroke-width="1.0"/>
<text transform="translate(89.80,557.80) rotate(-90)" x="0" y="0" font-size="7.400" fill="#1a1a1a" textLength="14.40" lengthAdjust="spacingAndGlyphs">Ig_4</text>
<line x1="94.88" y1="536.00" x2="94.88" y2="539.80" stroke="#000" stroke-width="1.0"/>
<text transform="translate(97.38,588.66) rotate(-90)" x="0" y="0" font-size="7.400" fill="#1a1a1a" textLength="45.26" lengthAdjust="spacingAndGlyphs">AC096579.13</text>
<line x1="102.46" y1="536.00" x2="102.46" y2="539.80" stroke="#000" stroke-width="1.0"/>
<text transform="translate(104.96,556.56) rotate(-90)" x="0" y="0" font-size="7.400" fill="#1a1a1a" textLength="13.17" lengthAdjust="spacingAndGlyphs">E22</text>
<line x1="110.03" y1="536.00" x2="110.03" y2="539.80" stroke="#000" stroke-width="1.0"/>
<text transform="translate(112.53,563.56) rotate(-90)" x="0" y="0" font-size="7.400" fill="#1a1a1a" textLength="20.16" lengthAdjust="spacingAndGlyphs">IGLL5</text>
<line x1="117.61" y1="536.00" x2="117.61" y2="539.80" stroke="#000" stroke-width="1.0"/>
<text transform="translate(120.11,565.19) rotate(-90)" x="0" y="0" font-size="7.400" fill="#1a1a1a" textLength="21.79" lengthAdjust="spacingAndGlyphs">RHOH</text>
<line x1="125.18" y1="536.00" x2="125.18" y2="539.80" stroke="#000" stroke-width="1.0"/>
<text transform="translate(127.68,575.08) rotate(-90)" x="0" y="0" font-size="7.400" fill="#1a1a1a" textLength="31.68" lengthAdjust="spacingAndGlyphs">SLC44A5</text>
<line x1="132.76" y1="536.00" x2="132.76" y2="539.80" stroke="#000" stroke-width="1.0"/>
<text transform="translate(135.26,577.54) rotate(-90)" x="0" y="0" font-size="7.400" fill="#1a1a1a" textLength="34.13" lengthAdjust="spacingAndGlyphs">TSPOAP1</text>
<line x1="140.34" y1="536.00" x2="140.34" y2="539.80" stroke="#000" stroke-width="1.0"/>
<text transform="translate(142.84,557.80) rotate(-90)" x="0" y="0" font-size="7.400" fill="#1a1a1a" textLength="14.40" lengthAdjust="spacingAndGlyphs">Ig_3</text>
<line x1="147.91" y1="536.00" x2="147.91" y2="539.80" stroke="#000" stroke-width="1.0"/>
<text transform="translate(150.41,556.56) rotate(-90)" x="0" y="0" font-size="7.400" fill="#1a1a1a" textLength="13.17" lengthAdjust="spacingAndGlyphs">E15</text>
<line x1="155.49" y1="536.00" x2="155.49" y2="539.80" stroke="#000" stroke-width="1.0"/>
<text transform="translate(157.99,556.56) rotate(-90)" x="0" y="0" font-size="7.400" fill="#1a1a1a" textLength="13.17" lengthAdjust="spacingAndGlyphs">E20</text>
<line x1="163.06" y1="536.00" x2="163.06" y2="539.80" stroke="#000" stroke-width="1.0"/>
<text transform="translate(165.56,556.56) rotate(-90)" x="0" y="0" font-size="7.400" fill="#1a1a1a" textLength="13.17" lengthAdjust="spacingAndGlyphs">E21</text>
<line x1="170.64" y1="536.00" x2="170.64" y2="539.80" stroke="#000" stroke-width="1.0"/>
<text transform="translate(173.14,552.45) rotate(-90)" x="0" y="0" font-size="7.400" fill="#1a1a1a" textLength="9.05" lengthAdjust="spacingAndGlyphs">E6</text>
<line x1="178.22" y1="536.00" x2="178.22" y2="539.80" stroke="#000" stroke-width="1.0"/>
<text transform="translate(180.72,566.84) rotate(-90)" x="0" y="0" font-size="7.400" fill="#1a1a1a" textLength="23.44" lengthAdjust="spacingAndGlyphs">FCRL3</text>
<line x1="185.79" y1="536.00" x2="185.79" y2="539.80" stroke="#000" stroke-width="1.0"/>
<text transform="translate(188.29,580.84) rotate(-90)" x="0" y="0" font-size="7.400" fill="#1a1a1a" textLength="37.44" lengthAdjust="spacingAndGlyphs">KIAA0226L</text>
<line x1="193.37" y1="536.00" x2="193.37" y2="539.80" stroke="#000" stroke-width="1.0"/>
<text transform="translate(195.87,561.50) rotate(-90)" x="0" y="0" font-size="7.400" fill="#1a1a1a" textLength="18.10" lengthAdjust="spacingAndGlyphs">SELL</text>
<line x1="200.94" y1="536.00" x2="200.94" y2="539.80" stroke="#000" stroke-width="1.0"/>
<text transform="translate(203.44,564.37) rotate(-90)" x="0" y="0" font-size="7.400" fill="#1a1a1a" textLength="20.97" lengthAdjust="spacingAndGlyphs">TNIP2</text>
<line x1="208.52" y1="536.00" x2="208.52" y2="539.80" stroke="#000" stroke-width="1.0"/>
<text transform="translate(211.02,569.71) rotate(-90)" x="0" y="0" font-size="7.400" fill="#1a1a1a" textLength="26.32" lengthAdjust="spacingAndGlyphs">TRIM13</text>
<line x1="216.10" y1="536.00" x2="216.10" y2="539.80" stroke="#000" stroke-width="1.0"/>
<text transform="translate(218.60,562.73) rotate(-90)" x="0" y="0" font-size="7.400" fill="#1a1a1a" textLength="19.33" lengthAdjust="spacingAndGlyphs">BTG2</text>
<line x1="223.67" y1="536.00" x2="223.67" y2="539.80" stroke="#000" stroke-width="1.0"/>
<text transform="translate(226.17,576.71) rotate(-90)" x="0" y="0" font-size="7.400" fill="#1a1a1a" textLength="33.31" lengthAdjust="spacingAndGlyphs">CDC27P1</text>
<line x1="231.25" y1="536.00" x2="231.25" y2="539.80" stroke="#000" stroke-width="1.0"/>
<text transform="translate(233.75,567.26) rotate(-90)" x="0" y="0" font-size="7.400" fill="#1a1a1a" textLength="23.86" lengthAdjust="spacingAndGlyphs">CDK14</text>
<line x1="238.82" y1="536.00" x2="238.82" y2="539.80" stroke="#000" stroke-width="1.0"/>
<text transform="translate(241.32,561.76) rotate(-90)" x="0" y="0" font-size="7.400" fill="#1a1a1a" textLength="18.36" lengthAdjust="spacingAndGlyphs">CIITA</text>
<line x1="246.40" y1="536.00" x2="246.40" y2="539.80" stroke="#000" stroke-width="1.0"/>
<text transform="translate(248.90,572.60) rotate(-90)" x="0" y="0" font-size="7.400" fill="#1a1a1a" textLength="29.20" lengthAdjust="spacingAndGlyphs">CLEC2D</text>
<line x1="253.98" y1="536.00" x2="253.98" y2="539.80" stroke="#000" stroke-width="1.0"/>
<text transform="translate(256.48,568.49) rotate(-90)" x="0" y="0" font-size="7.400" fill="#1a1a1a" textLength="25.08" lengthAdjust="spacingAndGlyphs">CXCR4</text>
<line x1="261.55" y1="536.00" x2="261.55" y2="539.80" stroke="#000" stroke-width="1.0"/>
<text transform="translate(264.05,565.19) rotate(-90)" x="0" y="0" font-size="7.400" fill="#1a1a1a" textLength="21.79" lengthAdjust="spacingAndGlyphs">CYTIP</text>
<line x1="269.13" y1="536.00" x2="269.13" y2="539.80" stroke="#000" stroke-width="1.0"/>
<text transform="translate(271.63,556.56) rotate(-90)" x="0" y="0" font-size="7.400" fill="#1a1a1a" textLength="13.17" lengthAdjust="spacingAndGlyphs">E10</text>
<line x1="276.70" y1="536.00" x2="276.70" y2="539.80" stroke="#000" stroke-width="1.0"/>
<text transform="translate(279.20,556.02) rotate(-90)" x="0" y="0" font-size="7.400" fill="#1a1a1a" textLength="12.62" lengthAdjust="spacingAndGlyphs">E11</text>
<line x1="284.28" y1="536.00" x2="284.28" y2="539.80" stroke="#000" stroke-width="1.0"/>
<text transform="translate(286.78,556.56) rotate(-90)" x="0" y="0" font-size="7.400" fill="#1a1a1a" textLength="13.17" lengthAdjust="spacingAndGlyphs">E14</text>
<line x1="291.86" y1="536.00" x2="291.86" y2="539.80" stroke="#000" stroke-width="1.0"/>
<text transform="translate(294.36,556.56) rotate(-90)" x="0" y="0" font-size="7.400" fill="#1a1a1a" textLength="13.17" lengthAdjust="spacingAndGlyphs">E16</text>
<line x1="299.43" y1="536.00" x2="299.43" y2="539.80" stroke="#000" stroke-width="1.0"/>
<text transform="translate(301.93,556.56) rotate(-90)" x="0" y="0" font-size="7.400" fill="#1a1a1a" textLength="13.17" lengthAdjust="spacingAndGlyphs">E17</text>
<line x1="307.01" y1="536.00" x2="307.01" y2="539.80" stroke="#000" stroke-width="1.0"/>
<text transform="translate(309.51,556.56) rotate(-90)" x="0" y="0" font-size="7.400" fill="#1a1a1a" textLength="13.17" lengthAdjust="spacingAndGlyphs">E18</text>
<line x1="314.58" y1="536.00" x2="314.58" y2="539.80" stroke="#000" stroke-width="1.0"/>
<text transform="translate(317.08,556.56) rotate(-90)" x="0" y="0" font-size="7.400" fill="#1a1a1a" textLength="13.17" lengthAdjust="spacingAndGlyphs">E19</text>
<line x1="322.16" y1="536.00" x2="322.16" y2="539.80" stroke="#000" stroke-width="1.0"/>
<text transform="translate(324.66,556.56) rotate(-90)" x="0" y="0" font-size="7.400" fill="#1a1a1a" textLength="13.17" lengthAdjust="spacingAndGlyphs">E23</text>
<line x1="329.74" y1="536.00" x2="329.74" y2="539.80" stroke="#000" stroke-width="1.0"/>
<text transform="translate(332.24,552.45) rotate(-90)" x="0" y="0" font-size="7.400" fill="#1a1a1a" textLength="9.05" lengthAdjust="spacingAndGlyphs">E3</text>
<line x1="337.31" y1="536.00" x2="337.31" y2="539.80" stroke="#000" stroke-width="1.0"/>
<text transform="translate(339.81,552.45) rotate(-90)" x="0" y="0" font-size="7.400" fill="#1a1a1a" textLength="9.05" lengthAdjust="spacingAndGlyphs">E5</text>
<line x1="344.89" y1="536.00" x2="344.89" y2="539.80" stroke="#000" stroke-width="1.0"/>
<text transform="translate(347.39,552.45) rotate(-90)" x="0" y="0" font-size="7.400" fill="#1a1a1a" textLength="9.05" lengthAdjust="spacingAndGlyphs">E7</text>
<line x1="352.46" y1="536.00" x2="352.46" y2="539.80" stroke="#000" stroke-width="1.0"/>
<text transform="translate(354.96,552.45) rotate(-90)" x="0" y="0" font-size="7.400" fill="#1a1a1a" textLength="9.05" lengthAdjust="spacingAndGlyphs">E8</text>
<line x1="360.04" y1="536.00" x2="360.04" y2="539.80" stroke="#000" stroke-width="1.0"/>
<text transform="translate(362.54,564.77) rotate(-90)" x="0" y="0" font-size="7.400" fill="#1a1a1a" textLength="21.37" lengthAdjust="spacingAndGlyphs">FCMR</text>
<line x1="367.62" y1="536.00" x2="367.62" y2="539.80" stroke="#000" stroke-width="1.0"/>
<text transform="translate(370.12,559.44) rotate(-90)" x="0" y="0" font-size="7.400" fill="#1a1a1a" textLength="16.04" lengthAdjust="spacingAndGlyphs">IRF4</text>
<line x1="375.19" y1="536.00" x2="375.19" y2="539.80" stroke="#000" stroke-width="1.0"/>
<text transform="translate(377.69,557.39) rotate(-90)" x="0" y="0" font-size="7.400" fill="#1a1a1a" textLength="13.99" lengthAdjust="spacingAndGlyphs">LPP</text>
<line x1="382.77" y1="536.00" x2="382.77" y2="539.80" stroke="#000" stroke-width="1.0"/>
<text transform="translate(385.27,559.84) rotate(-90)" x="0" y="0" font-size="7.400" fill="#1a1a1a" textLength="16.44" lengthAdjust="spacingAndGlyphs">MYC</text>
<line x1="390.34" y1="536.00" x2="390.34" y2="539.80" stroke="#000" stroke-width="1.0"/>
<text transform="translate(392.84,573.41) rotate(-90)" x="0" y="0" font-size="7.400" fill="#1a1a1a" textLength="30.01" lengthAdjust="spacingAndGlyphs">ZCCHC7</text>
<line x1="397.92" y1="536.00" x2="397.92" y2="539.80" stroke="#000" stroke-width="1.0"/>
<text transform="translate(400.42,573.84) rotate(-90)" x="0" y="0" font-size="7.400" fill="#1a1a1a" textLength="30.44" lengthAdjust="spacingAndGlyphs">ZFP36L1</text>
<line x1="405.50" y1="536.00" x2="405.50" y2="539.80" stroke="#000" stroke-width="1.0"/>
<text transform="translate(408.00,584.52) rotate(-90)" x="0" y="0" font-size="7.400" fill="#1a1a1a" textLength="41.12" lengthAdjust="spacingAndGlyphs">ADAMDEC1</text>
<line x1="413.07" y1="536.00" x2="413.07" y2="539.80" stroke="#000" stroke-width="1.0"/>
<text transform="translate(415.57,561.91) rotate(-90)" x="0" y="0" font-size="7.400" fill="#1a1a1a" textLength="18.51" lengthAdjust="spacingAndGlyphs">BCL6</text>
<line x1="420.65" y1="536.00" x2="420.65" y2="539.80" stroke="#000" stroke-width="1.0"/>
<text transform="translate(423.15,563.55) rotate(-90)" x="0" y="0" font-size="7.400" fill="#1a1a1a" textLength="20.15" lengthAdjust="spacingAndGlyphs">CCR7</text>
<line x1="428.22" y1="536.00" x2="428.22" y2="539.80" stroke="#000" stroke-width="1.0"/>
<text transform="translate(430.72,562.32) rotate(-90)" x="0" y="0" font-size="7.400" fill="#1a1a1a" textLength="18.92" lengthAdjust="spacingAndGlyphs">CD44</text>
<line x1="435.80" y1="536.00" x2="435.80" y2="539.80" stroke="#000" stroke-width="1.0"/>
<text transform="translate(438.30,556.56) rotate(-90)" x="0" y="0" font-size="7.400" fill="#1a1a1a" textLength="13.17" lengthAdjust="spacingAndGlyphs">E12</text>
<line x1="443.38" y1="536.00" x2="443.38" y2="539.80" stroke="#000" stroke-width="1.0"/>
<text transform="translate(445.88,556.56) rotate(-90)" x="0" y="0" font-size="7.400" fill="#1a1a1a" textLength="13.17" lengthAdjust="spacingAndGlyphs">E13</text>
<line x1="450.95" y1="536.00" x2="450.95" y2="539.80" stroke="#000" stroke-width="1.0"/>
<text transform="translate(453.45,552.45) rotate(-90)" x="0" y="0" font-size="7.400" fill="#1a1a1a" textLength="9.05" lengthAdjust="spacingAndGlyphs">E2</text>
<line x1="458.53" y1="536.00" x2="458.53" y2="539.80" stroke="#000" stroke-width="1.0"/>
<text transform="translate(461.03,552.45) rotate(-90)" x="0" y="0" font-size="7.400" fill="#1a1a1a" textLength="9.05" lengthAdjust="spacingAndGlyphs">E4</text>
<line x1="466.10" y1="536.00" x2="466.10" y2="539.80" stroke="#000" stroke-width="1.0"/>
<text transform="translate(468.60,557.80) rotate(-90)" x="0" y="0" font-size="7.400" fill="#1a1a1a" textLength="14.40" lengthAdjust="spacingAndGlyphs">Ig_7</text>
<line x1="473.68" y1="536.00" x2="473.68" y2="539.80" stroke="#000" stroke-width="1.0"/>
<text transform="translate(476.18,578.56) rotate(-90)" x="0" y="0" font-size="7.400" fill="#1a1a1a" textLength="35.17" lengthAdjust="spacingAndGlyphs">IGHD3−16</text>
<line x1="481.26" y1="536.00" x2="481.26" y2="539.80" stroke="#000" stroke-width="1.0"/>
<text transform="translate(483.76,552.45) rotate(-90)" x="0" y="0" font-size="7.400" fill="#1a1a1a" textLength="9.05" lengthAdjust="spacingAndGlyphs">E1</text>
<line x1="488.83" y1="536.00" x2="488.83" y2="539.80" stroke="#000" stroke-width="1.0"/>
<text transform="translate(491.33,552.45) rotate(-90)" x="0" y="0" font-size="7.400" fill="#1a1a1a" textLength="9.05" lengthAdjust="spacingAndGlyphs">E9</text>
<line x1="496.41" y1="536.00" x2="496.41" y2="539.80" stroke="#000" stroke-width="1.0"/>
<text transform="translate(498.91,565.60) rotate(-90)" x="0" y="0" font-size="7.400" fill="#1a1a1a" textLength="22.20" lengthAdjust="spacingAndGlyphs">GMDS</text>
<line x1="503.98" y1="536.00" x2="503.98" y2="539.80" stroke="#000" stroke-width="1.0"/>
<text transform="translate(506.48,557.80) rotate(-90)" x="0" y="0" font-size="7.400" fill="#1a1a1a" textLength="14.40" lengthAdjust="spacingAndGlyphs">Ig_1</text>
<text x="269.80" y="601.00" font-size="10.602" fill="#1a1a1a" textLength="21.20" lengthAdjust="spacingAndGlyphs">Genes</text>
<text transform="translate(32.80,469.00) rotate(-90)" x="0" y="0" font-size="10.621" fill="#1a1a1a" textLength="143.10" lengthAdjust="spacingAndGlyphs"># of samples with non−coding mutations</text>
<path d="M86.60,645.58 L89.55,650.48 L83.65,650.48 Z" fill="#ad0a2c"/>
<path d="M86.60,652.24 L89.55,657.14 L83.65,657.14 Z" fill="#ad0a2c"/>
<path d="M86.60,658.90 L89.55,663.80 L83.65,663.80 Z" fill="#ad0a2c"/>
<path d="M86.60,665.56 L89.55,670.46 L83.65,670.46 Z" fill="#ad0a2c"/>
<path d="M86.60,678.56 L89.55,673.66 L83.65,673.66 Z" fill="#1f4088"/>
<line x1="86.60" y1="679.20" x2="86.60" y2="682.40" stroke="#000" stroke-width="1.0"/>
<text x="82.51" y="692.20" font-size="8.000" fill="#1a1a1a" textLength="8.19" lengthAdjust="spacingAndGlyphs">01</text>
<path d="M142.01,645.58 L144.96,650.48 L139.06,650.48 Z" fill="#ad0a2c"/>
<path d="M142.01,652.24 L144.96,657.14 L139.06,657.14 Z" fill="#ad0a2c"/>
<path d="M142.01,658.90 L144.96,663.80 L139.06,663.80 Z" fill="#ad0a2c"/>
<path d="M142.01,678.56 L144.96,673.66 L139.06,673.66 Z" fill="#1f4088"/>
<line x1="142.01" y1="679.20" x2="142.01" y2="682.40" stroke="#000" stroke-width="1.0"/>
<text x="137.92" y="692.20" font-size="8.000" fill="#1a1a1a" textLength="8.19" lengthAdjust="spacingAndGlyphs">05</text>
<path d="M197.42,645.58 L200.37,650.48 L194.47,650.48 Z" fill="#ad0a2c"/>
<path d="M197.42,652.24 L200.37,657.14 L194.47,657.14 Z" fill="#ad0a2c"/>
<path d="M197.42,678.56 L200.37,673.66 L194.47,673.66 Z" fill="#1f4088"/>
<line x1="197.42" y1="679.20" x2="197.42" y2="682.40" stroke="#000" stroke-width="1.0"/>
<text x="193.33" y="692.20" font-size="8.000" fill="#1a1a1a" textLength="8.19" lengthAdjust="spacingAndGlyphs">07</text>
<path d="M252.83,652.24 L255.78,657.14 L249.88,657.14 Z" fill="#ad0a2c"/>
<path d="M252.83,658.90 L255.78,663.80 L249.88,663.80 Z" fill="#ad0a2c"/>
<line x1="252.83" y1="679.20" x2="252.83" y2="682.40" stroke="#000" stroke-width="1.0"/>
<text x="248.74" y="692.20" font-size="8.000" fill="#1a1a1a" textLength="8.19" lengthAdjust="spacingAndGlyphs">08</text>
<path d="M308.24,645.58 L311.19,650.48 L305.29,650.48 Z" fill="#ad0a2c"/>
<path d="M308.24,678.56 L311.19,673.66 L305.29,673.66 Z" fill="#1f4088"/>
<line x1="308.24" y1="679.20" x2="308.24" y2="682.40" stroke="#000" stroke-width="1.0"/>
<text x="304.15" y="692.20" font-size="8.000" fill="#1a1a1a" textLength="8.19" lengthAdjust="spacingAndGlyphs">18</text>
<path d="M363.65,645.58 L366.60,650.48 L360.70,650.48 Z" fill="#ad0a2c"/>
<path d="M363.65,652.24 L366.60,657.14 L360.70,657.14 Z" fill="#ad0a2c"/>
<path d="M363.65,665.24 L366.60,660.34 L360.70,660.34 Z" fill="#1f4088"/>
<path d="M363.65,665.56 L366.60,670.46 L360.70,670.46 Z" fill="#ad0a2c"/>
<path d="M363.65,678.56 L366.60,673.66 L360.70,673.66 Z" fill="#1f4088"/>
<line x1="363.65" y1="679.20" x2="363.65" y2="682.40" stroke="#000" stroke-width="1.0"/>
<text x="359.56" y="692.20" font-size="8.000" fill="#1a1a1a" textLength="8.19" lengthAdjust="spacingAndGlyphs">21</text>
<path d="M419.06,645.58 L422.01,650.48 L416.11,650.48 Z" fill="#ad0a2c"/>
<path d="M419.06,652.24 L422.01,657.14 L416.11,657.14 Z" fill="#ad0a2c"/>
<path d="M419.06,658.90 L422.01,663.80 L416.11,663.80 Z" fill="#ad0a2c"/>
<path d="M419.06,665.56 L422.01,670.46 L416.11,670.46 Z" fill="#ad0a2c"/>
<path d="M419.06,678.56 L422.01,673.66 L416.11,673.66 Z" fill="#1f4088"/>
<line x1="419.06" y1="679.20" x2="419.06" y2="682.40" stroke="#000" stroke-width="1.0"/>
<text x="414.97" y="692.20" font-size="8.000" fill="#1a1a1a" textLength="8.19" lengthAdjust="spacingAndGlyphs">24</text>
<path d="M474.47,645.58 L477.42,650.48 L471.52,650.48 Z" fill="#ad0a2c"/>
<path d="M474.47,658.90 L477.42,663.80 L471.52,663.80 Z" fill="#ad0a2c"/>
<line x1="474.47" y1="679.20" x2="474.47" y2="682.40" stroke="#000" stroke-width="1.0"/>
<text x="470.38" y="692.20" font-size="8.000" fill="#1a1a1a" textLength="8.19" lengthAdjust="spacingAndGlyphs">32</text>
<line x1="50.00" y1="648.55" x2="53.50" y2="648.55" stroke="#000" stroke-width="1.0"/>
<text x="30.75" y="651.05" font-size="7.000" fill="#1a1a1a" textLength="15.56" lengthAdjust="spacingAndGlyphs">MYC</text>
<line x1="50.00" y1="655.21" x2="53.50" y2="655.21" stroke="#000" stroke-width="1.0"/>
<text x="31.13" y="657.71" font-size="7.000" fill="#1a1a1a" textLength="15.17" lengthAdjust="spacingAndGlyphs">IRF4</text>
<line x1="50.00" y1="661.87" x2="53.50" y2="661.87" stroke="#000" stroke-width="1.0"/>
<text x="22.57" y="664.37" font-size="7.000" fill="#1a1a1a" textLength="23.73" lengthAdjust="spacingAndGlyphs">CXCR4</text>
<line x1="50.00" y1="668.53" x2="53.50" y2="668.53" stroke="#000" stroke-width="1.0"/>
<text x="27.24" y="671.03" font-size="7.000" fill="#1a1a1a" textLength="19.06" lengthAdjust="spacingAndGlyphs">CCR7</text>
<line x1="50.00" y1="675.19" x2="53.50" y2="675.19" stroke="#000" stroke-width="1.0"/>
<text x="28.79" y="677.69" font-size="7.000" fill="#1a1a1a" textLength="17.51" lengthAdjust="spacingAndGlyphs">BCL6</text>
<rect x="53.50" y="644.70" width="454.20" height="34.50" fill="none" stroke="#000" stroke-width="1.25"/>
<text x="267.00" y="706.30" font-size="9.884" fill="#1a1a1a" textLength="27.10" lengthAdjust="spacingAndGlyphs">Patients</text>
<text transform="translate(17.00,672.70) rotate(-90)" x="0" y="0" font-size="11.318" fill="#1a1a1a" textLength="21.70" lengthAdjust="spacingAndGlyphs">Genes</text>
<text x="199.30" y="631.90" font-size="7.209" font-weight="bold" fill="#000" textLength="20.80" lengthAdjust="spacingAndGlyphs">status</text>
<path d="M231.0,627.8 L237.0,627.8 L234.0,632.2 Z" fill="#1f4088"/>
<text x="240.30" y="631.90" font-size="6.759" fill="#1a1a1a" textLength="55.60" lengthAdjust="spacingAndGlyphs">down−regulated</text>
<path d="M309.85,627.7 L312.9,632.4 L306.8,632.4 Z" fill="#ad0a2c"/>
<text x="316.00" y="631.90" font-size="6.759" fill="#1a1a1a" textLength="45.30" lengthAdjust="spacingAndGlyphs">up−regulated</text>
<rect x="0.00" y="0.00" width="1.30" height="717.00" fill="#000"/>
<rect x="0.00" y="0.00" width="520.00" height="1.20" fill="#000"/>
<rect x="518.40" y="0.00" width="1.60" height="717.00" fill="#000"/>
<rect x="0.00" y="715.30" width="520.00" height="1.70" fill="#000"/></svg>
</body></html>
